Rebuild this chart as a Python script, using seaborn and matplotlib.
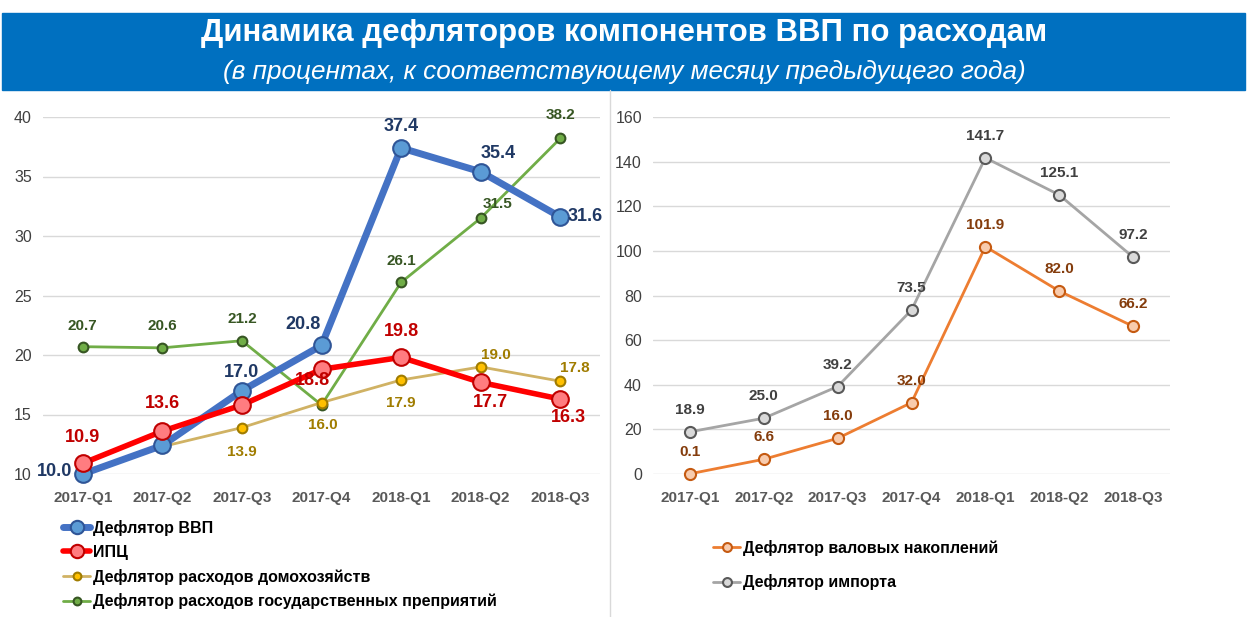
import seaborn as sns
import matplotlib.pyplot as plt
from matplotlib.patches import Rectangle

sns.set_theme(style="white")
plt.rcParams['font.family'] = ['Liberation Sans', 'DejaVu Sans']

quarters = ['2017-Q1', '2017-Q2', '2017-Q3', '2017-Q4', '2018-Q1', '2018-Q2', '2018-Q3']

gdp = [10.0, 12.4, 17.0, 20.8, 37.4, 35.4, 31.6]
cpi = [10.9, 13.6, 15.8, 18.8, 19.8, 17.7, 16.3]
household = [9.9, 12.3, 13.9, 16.0, 17.9, 19.0, 17.8]
government = [20.7, 20.6, 21.2, 15.8, 26.1, 31.5, 38.2]

accumulation = [0.1, 6.6, 16.0, 32.0, 101.9, 82.0, 66.2]
imports = [18.9, 25.0, 39.2, 73.5, 141.7, 125.1, 97.2]

names_left = ['Дефлятор ВВП', 'ИПЦ', 'Дефлятор расходов домохозяйств',
              'Дефлятор расходов государственных преприятий']
names_right = ['Дефлятор валовых накоплений', 'Дефлятор импорта']

fig = plt.figure(figsize=(12.49, 6.17), dpi=100)

# title band
fig.patches.append(Rectangle((2 / 1249, 1 - 90 / 617), 1243 / 1249, 77 / 617,
                             transform=fig.transFigure, color='#0070C0', zorder=0))
fig.text(0.5, 1 - 33 / 617, 'Динамика дефляторов компонентов ВВП по расходам',
         ha='center', va='center', color='white', fontsize=22.5, fontweight='bold')
fig.text(0.5, 1 - 72 / 617, '(в процентах, к соответствующему месяцу предыдущего года)',
         ha='center', va='center', color='white', fontsize=18.8, style='italic')
fig.add_artist(plt.Line2D([610 / 1249, 610 / 1249], [0, 1 - 90 / 617],
                          transform=fig.transFigure, color='#D9D9D9', lw=1))

ax1 = fig.add_axes([43 / 1249, 1 - 474 / 617, 557 / 1249, 357 / 617])
ax2 = fig.add_axes([653 / 1249, 1 - 474 / 617, 517 / 1249, 357 / 617])


def draw(ax, values, name, color, lw, mfc, mec, ms, lab_color, lab_size, offsets):
    sns.lineplot(x=quarters, y=values, ax=ax, sort=False, color=color, lw=lw,
                 marker='o', markersize=ms, markerfacecolor=mfc, markeredgecolor=mec,
                 markeredgewidth=1.5, label=name)
    for i, (v, off) in enumerate(zip(values, offsets)):
        if off is None:
            continue
        ax.annotate(f'{v:.1f}', (i, v), xytext=off, textcoords='offset pixels',
                    ha='center', va='center', color=lab_color, fontsize=lab_size,
                    fontweight='bold')


draw(ax1, government, names_left[3], '#70AD47', 2, '#70AD47', '#375623', 7,
     '#375623', 11, [(0, 21), (0, 22), (0, 22), None, (0, 21), (17, 14), (0, 23)])
draw(ax1, household, names_left[2], '#D0B264', 2, '#FFC000', '#A07C00', 7,
     '#A07C00', 11, [None, None, (0, -24), (1, -22), (0, -23), (15, 12), (15, 13)])
draw(ax1, gdp, names_left[0], '#4472C4', 5, '#5B9BD5', '#2F5597', 12,
     '#1F3864', 13, [(-28, 2), None, (0, 18), (-18, 21), (0, 21), (18, 18), (25, 0)])
draw(ax1, cpi, names_left[1], '#FF0000', 4, '#FF7C80', '#C00000', 12,
     '#C00000', 13, [(0, 26), (0, 28), None, (-9, -11), (0, 26), (10, -20), (8, -18)])

draw(ax2, accumulation, names_right[0], '#ED7D31', 2, '#F8CBAD', '#C55A11', 8,
     '#843C0C', 11, [(0, 22)] * 7)
draw(ax2, imports, names_right[1], '#A5A5A5', 2, '#D9D9D9', '#595959', 8,
     '#404040', 11, [(0, 22)] * 7)

ax1.set_ylim(10, 40)
ax1.set_yticks(range(10, 41, 5))
ax2.set_ylim(0, 160)
ax2.set_yticks(range(0, 161, 20))

for ax in (ax1, ax2):
    ax.set_xlim(-0.5, 6.5)
    ax.set_xlabel('')
    ax.set_ylabel('')
    ax.grid(axis='y', color='#D9D9D9', lw=1)
    ax.set_axisbelow(True)
    sns.despine(ax=ax, left=True, bottom=True)
    ax.tick_params(axis='y', labelsize=11.5, labelcolor='#404040', pad=8, length=0)
    ax.tick_params(axis='x', labelsize=11, labelcolor='#595959', pad=12, length=0)
    for t in ax.get_xticklabels():
        t.set_fontweight('bold')
    ax.patch.set_alpha(0)
    for ln in ax.lines:
        ln.set_clip_on(False)

h1, l1 = ax1.get_legend_handles_labels()
order = [l1.index(n) for n in names_left]
ax1.legend([h1[i] for i in order], [l1[i] for i in order],
           loc='upper left', bbox_to_anchor=(63 / 1249, 1 - 520 / 617),
           bbox_transform=fig.transFigure, frameon=False, borderpad=0,
           borderaxespad=0, handlelength=1.7, handletextpad=0.15,
           labelspacing=0.55, markerscale=0.8, labelcolor='black',
           prop={'size': 11.5, 'weight': 'bold'})
ax2.legend(loc='upper left', bbox_to_anchor=(713 / 1249, 1 - 540 / 617),
           bbox_transform=fig.transFigure, frameon=False, borderpad=0,
           borderaxespad=0, handlelength=1.7, handletextpad=0.15,
           labelspacing=1.15, markerscale=0.8, labelcolor='black',
           prop={'size': 11.5, 'weight': 'bold'})

fig.savefig('out.png', dpi=100)
